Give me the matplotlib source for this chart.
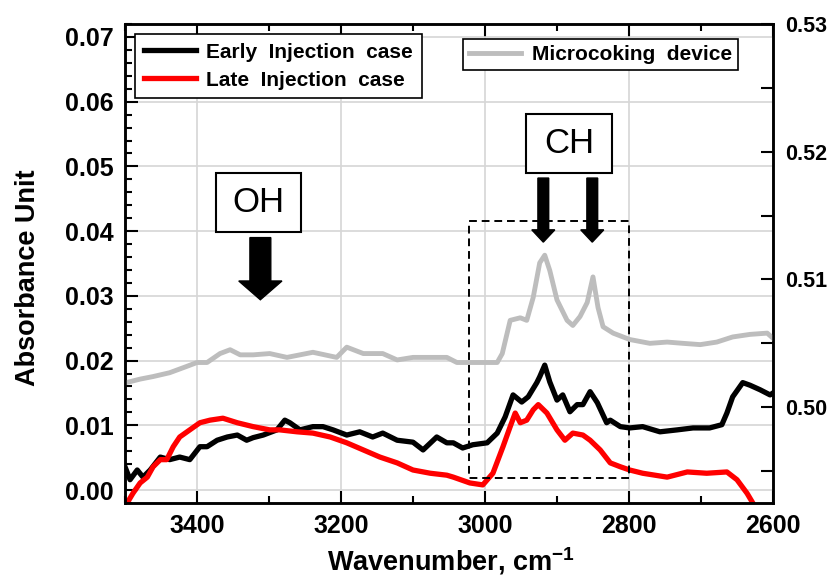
import matplotlib
matplotlib.use("Agg")
import matplotlib.pyplot as plt
from matplotlib.patches import Rectangle, FancyArrow
from matplotlib.ticker import MultipleLocator, FormatStrFormatter

plt.rcParams['font.family'] = ['Liberation Sans', 'DejaVu Sans']
plt.rcParams['font.weight'] = 'bold'
plt.rcParams['mathtext.fontset'] = 'custom'
plt.rcParams['mathtext.bf'] = 'Liberation Sans:bold'
plt.rcParams['mathtext.rm'] = 'Liberation Sans:bold'

# ---- spectra -------------------------------------------------------------
early_wn = [3500, 3493, 3483, 3475, 3465, 3451, 3438, 3424, 3410, 3396,
            3386, 3372, 3358, 3344, 3331, 3322, 3308, 3289, 3278, 3271,
            3257, 3239, 3225, 3211, 3192, 3174, 3156, 3142, 3122, 3100,
            3086, 3067, 3053, 3044, 3031, 3017, 2997, 2983, 2972, 2961,
            2949, 2940, 2928, 2924, 2917, 2910, 2900, 2892, 2882, 2872,
            2864, 2854, 2844, 2831, 2826, 2812, 2799, 2781, 2757, 2733,
            2711, 2688, 2671, 2664, 2656, 2642, 2632, 2618, 2604, 2600]
early_abs = [0.0036, 0.0016, 0.0031, 0.0020, 0.0031, 0.0051, 0.0047, 0.0051, 0.0047, 0.0067,
             0.0067, 0.0077, 0.0082, 0.0085, 0.0077, 0.0081, 0.0085, 0.0093, 0.0108, 0.0104,
             0.0093, 0.0098, 0.0098, 0.0093, 0.0085, 0.0090, 0.0082, 0.0088, 0.0077, 0.0074,
             0.0062, 0.0082, 0.0073, 0.0073, 0.0065, 0.0070, 0.0073, 0.0088, 0.0113, 0.0147,
             0.0136, 0.0144, 0.0166, 0.0175, 0.0193, 0.0167, 0.0139, 0.0147, 0.0121, 0.0132,
             0.0132, 0.0152, 0.0135, 0.0104, 0.0108, 0.0098, 0.0096, 0.0098, 0.0090, 0.0093,
             0.0096, 0.0096, 0.0101, 0.0119, 0.0144, 0.0166, 0.0162, 0.0155, 0.0147, 0.0150]

late_wn = [3500, 3496, 3489, 3479, 3469, 3461, 3451, 3442, 3433, 3424, 3410,
           3396, 3382, 3364, 3344, 3322, 3299, 3285, 3261, 3239, 3215,
           3192, 3169, 3146, 3122, 3100, 3076, 3053, 3044, 3021, 3003,
           2989, 2975, 2965, 2958, 2951, 2942, 2933, 2926, 2914, 2900,
           2889, 2878, 2864, 2854, 2840, 2826, 2812, 2799, 2781, 2747,
           2719, 2692, 2664, 2650, 2636, 2628, 2620, 2612]
late_abs = [-0.0028, -0.0018, -0.0005, 0.0011, 0.0020, 0.0036, 0.0047, 0.0047, 0.0067, 0.0082, 0.0093,
            0.0104, 0.0108, 0.0111, 0.0104, 0.0098, 0.0093, 0.0093, 0.0090, 0.0088, 0.0082,
            0.0073, 0.0062, 0.0051, 0.0042, 0.0031, 0.0026, 0.0023, 0.0020, 0.0011, 0.0008,
            0.0026, 0.0067, 0.0098, 0.0119, 0.0104, 0.0108, 0.0124, 0.0132, 0.0119, 0.0093,
            0.0077, 0.0088, 0.0085, 0.0077, 0.0062, 0.0042, 0.0036, 0.0031, 0.0026, 0.0020,
            0.0028, 0.0026, 0.0028, 0.0016, -0.0005, -0.0020, -0.0040, -0.0060]

device_wn = [3500, 3479, 3461, 3438, 3414, 3400, 3386, 3368, 3354, 3340,
             3322, 3299, 3275, 3239, 3206, 3192, 3169, 3142, 3122, 3100,
             3076, 3053, 3039, 3017, 2983, 2976, 2965, 2951, 2942, 2933,
             2924, 2917, 2910, 2900, 2886, 2878, 2868, 2858, 2850, 2843,
             2836, 2822, 2799, 2771, 2747, 2725, 2701, 2678, 2656, 2632,
             2608, 2600]
device_abs = [0.5019, 0.5022, 0.5024, 0.5027, 0.5032, 0.5035, 0.5035, 0.5042, 0.5045, 0.5041,
              0.5041, 0.5042, 0.5039, 0.5043, 0.5039, 0.5047, 0.5042, 0.5042, 0.5037, 0.5039,
              0.5039, 0.5039, 0.5035, 0.5035, 0.5035, 0.5042, 0.5068, 0.5070, 0.5068, 0.5086,
              0.5113, 0.5119, 0.5107, 0.5084, 0.5068, 0.5064, 0.5071, 0.5082, 0.5102, 0.5078,
              0.5063, 0.5058, 0.5053, 0.5050, 0.5051, 0.5050, 0.5049, 0.5051, 0.5055, 0.5057,
              0.5058, 0.5054]

labels_left = ['Early  Injection  case', 'Late  Injection  case']
label_right = 'Microcoking  device'

# ---- figure --------------------------------------------------------------
fig = plt.figure(figsize=(8.3, 5.82), dpi=100)
ax = fig.add_axes([0.1506, 0.1357, 0.7807, 0.8231])
ax2 = ax.twinx()

ax.set_xlim(3500, 2600)
ax.set_ylim(-0.002, 0.072)
ax2.set_ylim(0.4925, 0.53)

ax.grid(True, which='major', color='#d6d6d6', lw=1.2)
ax.set_axisbelow(True)

l_early, = ax.plot(early_wn, early_abs, color='black', lw=3.8, solid_joinstyle='round')
l_late, = ax.plot(late_wn, late_abs, color='#ff0000', lw=3.8, solid_joinstyle='round')
l_dev, = ax2.plot(device_wn, device_abs, color='#bdbdbd', lw=3.5, solid_joinstyle='round')

# ticks
ax.xaxis.set_major_locator(MultipleLocator(200))
ax.xaxis.set_minor_locator(MultipleLocator(100))
ax.yaxis.set_major_locator(MultipleLocator(0.01))
ax.yaxis.set_minor_locator(MultipleLocator(0.002))
ax.yaxis.set_major_formatter(FormatStrFormatter('%.2f'))
ax.tick_params(which='both', direction='in', top=True, right=False, width=1.5, labelsize=18)
ax.tick_params(which='major', length=9, pad=8)
ax.tick_params(which='minor', length=5)

ax2.yaxis.set_major_locator(MultipleLocator(0.01))
ax2.yaxis.set_minor_locator(MultipleLocator(0.005))
ax2.yaxis.set_major_formatter(FormatStrFormatter('%.2f'))
ax2.tick_params(which='both', direction='in', width=1.5, labelsize=15.5)
ax2.tick_params(which='major', length=9, pad=9)
ax2.tick_params(which='minor', length=9)

for a in (ax, ax2):
    for s in a.spines.values():
        s.set_linewidth(1.8)

ax.set_xlabel('Wavenumber, cm$^{\\mathbf{-1}}$', fontsize=19.5, fontweight='bold')
ax.set_ylabel('Absorbance Unit', fontsize=19.5, fontweight='bold')
ax.xaxis.set_label_coords(0.503, -0.088)
ax.yaxis.set_label_coords(-0.13, 0.47)

# legends
leg1 = ax.legend([l_early, l_late], labels_left, loc='upper left',
                 bbox_to_anchor=(0.0154, 0.979), borderaxespad=0, fontsize=15,
                 fancybox=False, edgecolor='black', framealpha=1,
                 handlelength=2.5, handletextpad=0.5, borderpad=0.42, labelspacing=0.42)
leg1.get_frame().set_linewidth(1.2)
leg2 = ax2.legend([l_dev], [label_right], loc='upper left',
                  bbox_to_anchor=(0.5216, 0.9687), borderaxespad=0, fontsize=15,
                  fancybox=False, edgecolor='black', framealpha=1,
                  handlelength=2.5, handletextpad=0.5, borderpad=0.3)
leg2.get_frame().set_linewidth(1.2)

# region of the CH stretching bands
ax.add_patch(Rectangle((2800, 0.0018), 222, 0.0397, fill=False, ec='black',
                       lw=1.4, ls=(0, (4, 2.5)), zorder=5))

# band labels with arrows
ax.add_patch(Rectangle((3255.6, 0.0399), 118, 0.0091, fc='white', ec='black', lw=1.5, zorder=6))
ax.text(3315, 0.0445, 'OH', fontsize=25, fontweight='normal', ha='center', va='center', zorder=7)
ax.add_patch(FancyArrow(3312, 0.0390, 0, -0.0096, width=29, head_width=60, head_length=0.0029,
                        length_includes_head=True, color='black', zorder=6))

ax.add_patch(Rectangle((2823.6, 0.0490), 119.5, 0.0091, fc='white', ec='black', lw=1.5, zorder=6))
ax.text(2883, 0.0535, 'CH', fontsize=25, fontweight='normal', ha='center', va='center', zorder=7)
for xc in (2919, 2851):
    ax.add_patch(FancyArrow(xc, 0.0482, 0, -0.0099, width=15, head_width=32, head_length=0.0019,
                            length_includes_head=True, color='black', zorder=6))

fig.savefig('out.png', dpi=100)
